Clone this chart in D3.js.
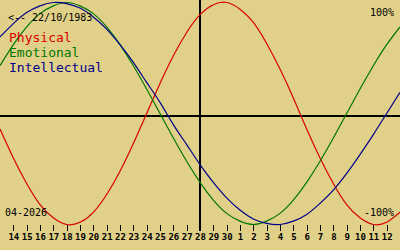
<!DOCTYPE html>
<html>
<head>
<meta charset="utf-8">
<script src="https://cdn.jsdelivr.net/npm/d3@7"></script>
<style>
  html, body { margin: 0; padding: 0; background: #e0d088; }
  svg { display: block; }
  text { font-family: "DejaVu Sans Mono", "Liberation Mono", monospace; }
</style>
</head>
<body>
<svg id="chart" width="400" height="250"></svg>
<script>
// days relative to today (28/04/2026)
const dayOffsets = [-15, -14, -13, -12, -11, -10, -9, -8, -7, -6, -5, -4, -3, -2, -1, 0,
                    1, 2, 3, 4, 5, 6, 7, 8, 9, 10, 11, 12, 13, 14, 15];

const physical = [-0.14, -0.40, -0.63, -0.82, -0.94, -1.00, -0.98, -0.89, -0.73, -0.52, -0.27,
                  0.00, 0.27, 0.52, 0.73, 0.89, 0.98, 1.00, 0.94, 0.82, 0.63, 0.40, 0.14,
                  -0.14, -0.40, -0.63, -0.82, -0.94, -1.00, -0.98, -0.89];
const emotional = [0.43, 0.62, 0.78, 0.90, 0.97, 1.00, 0.97, 0.90, 0.78, 0.62, 0.43, 0.22,
                   0.00, -0.22, -0.43, -0.62, -0.78, -0.90, -0.97, -1.00, -0.97, -0.90,
                   -0.78, -0.62, -0.43, -0.22, 0.00, 0.22, 0.43, 0.62, 0.78];
const intellectual = [0.69, 0.81, 0.91, 0.97, 1.00, 0.99, 0.95, 0.87, 0.76, 0.62, 0.46, 0.28,
                      0.10, -0.10, -0.28, -0.46, -0.62, -0.76, -0.87, -0.95, -0.99, -1.00,
                      -0.97, -0.91, -0.81, -0.69, -0.54, -0.37, -0.19, 0.00, 0.19];

// tick labels (day of month), first one is 14 days before today
const tickOffsets = [-14, -13, -12, -11, -10, -9, -8, -7, -6, -5, -4, -3, -2, -1, 0,
                     1, 2, 3, 4, 5, 6, 7, 8, 9, 10, 11, 12, 13, 14];
const tickLabels = ["14", "15", "16", "17", "18", "19", "20", "21", "22", "23", "24", "25",
                    "26", "27", "28", "29", "30", "1", "2", "3", "4", "5", "6", "7", "8",
                    "9", "10", "11", "12"];

const seriesNames = ["Physical", "Emotional", "Intellectual"];
const seriesColors = ["#d80000", "#007800", "#00008c"];
const birthLabel = "<-- 22/10/1983";
const monthLabel = "04-2026";

const svg = d3.select("#chart");
const width = 400;

const x = d3.scaleLinear().domain([-15, 15]).range([0, width]);
const y = d3.scaleLinear().domain([-1, 1]).range([224.5, 2.5]);

// axes cross
svg.append("line")
    .attr("x1", 0).attr("x2", width)
    .attr("y1", 116).attr("y2", 116)
    .attr("stroke", "#000").attr("stroke-width", 2)
    .attr("shape-rendering", "crispEdges");
svg.append("line")
    .attr("x1", x(0)).attr("x2", x(0))
    .attr("y1", 0).attr("y2", 231)
    .attr("stroke", "#000").attr("stroke-width", 2)
    .attr("shape-rendering", "crispEdges");

// day ticks
const axisG = svg.append("g").attr("transform", "translate(0,225)");
const axis = d3.axisBottom(x)
    .tickValues(tickOffsets)
    .tickSize(6)
    .tickSizeOuter(0)
    .tickPadding(3)
    .tickFormat((d, i) => tickLabels[i]);
axisG.call(axis);
axisG.select(".domain").remove();
axisG.selectAll(".tick line")
    .attr("stroke", "#000")
    .attr("shape-rendering", "crispEdges");
axisG.selectAll(".tick text")
    .attr("fill", "#000")
    .attr("font-size", "9px")
    .attr("font-weight", "bold")
    .attr("font-family", "DejaVu Sans Mono, monospace");

// curves
const line = d3.line()
    .x((d, i) => x(dayOffsets[i]))
    .y(d => y(d))
    .curve(d3.curveNatural);

[physical, emotional, intellectual].forEach((vals, k) => {
    svg.append("path")
        .datum(vals)
        .attr("fill", "none")
        .attr("stroke", seriesColors[k])
        .attr("stroke-width", 1.2)
        .attr("d", line);
});

// texts
svg.append("text")
    .attr("x", 8).attr("y", 21)
    .attr("font-size", "10px")
    .attr("fill", "#000")
    .text(birthLabel);

seriesNames.forEach((name, k) => {
    svg.append("text")
        .attr("x", 9).attr("y", 42 + k * 15)
        .attr("font-size", "13px")
        .attr("fill", seriesColors[k])
        .text(name);
});

svg.append("text")
    .attr("x", 394).attr("y", 16)
    .attr("text-anchor", "end")
    .attr("font-size", "10px")
    .attr("fill", "#000")
    .text("100%");

svg.append("text")
    .attr("x", 394).attr("y", 216)
    .attr("text-anchor", "end")
    .attr("font-size", "10px")
    .attr("fill", "#000")
    .text("-100%");

svg.append("text")
    .attr("x", 5).attr("y", 216)
    .attr("font-size", "10px")
    .attr("fill", "#000")
    .text(monthLabel);
</script>
</body>
</html>
